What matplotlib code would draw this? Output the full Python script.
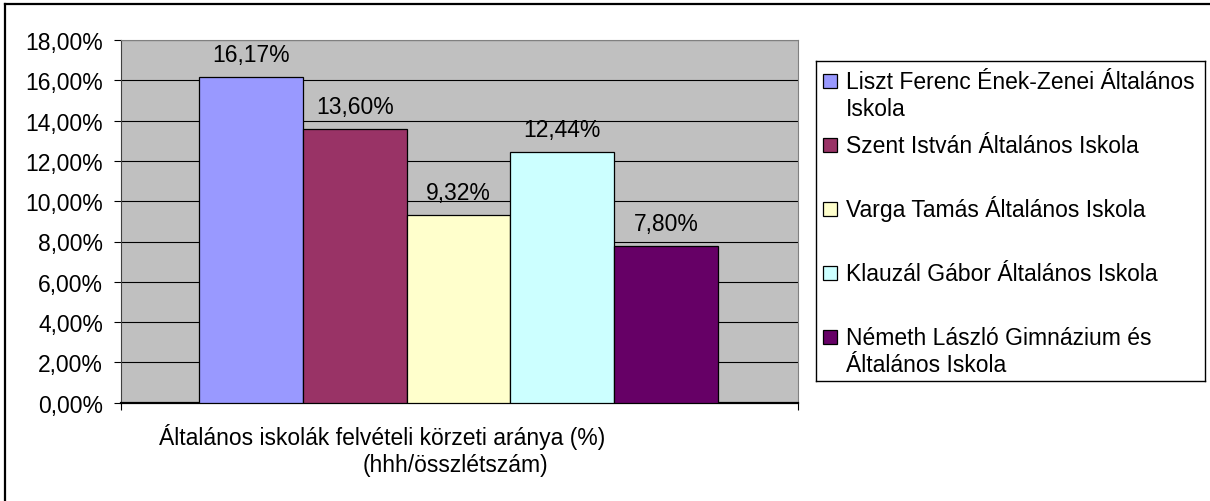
import matplotlib.pyplot as plt
from matplotlib.patches import Rectangle
from matplotlib.lines import Line2D

# chart data
schools = [
    "Liszt Ferenc Ének-Zenei Általános\nIskola",
    "Szent István Általános Iskola",
    "Varga Tamás Általános Iskola",
    "Klauzál Gábor Általános Iskola",
    "Németh László Gimnázium és\nÁltalános Iskola",
]
values = [16.17, 13.60, 9.32, 12.44, 7.80]
colors = ["#9999FF", "#993366", "#FFFFCC", "#CCFFFF", "#660066"]
yticks = [0, 2, 4, 6, 8, 10, 12, 14, 16, 18]
xlabel_line1 = "Általános iskolák felvételi körzeti aránya (%)"
xlabel_line2 = "(hhh/összlétszám)"

plt.rcParams["font.family"] = ["Liberation Sans", "DejaVu Sans"]
FS = 16.5

W, H = 1210, 502
fig = plt.figure(figsize=(W / 100, H / 100), dpi=100)

# plot area
ax = fig.add_axes([121 / W, 1 - 403.7 / H, 676.5 / W, 362.7 / H])
ax.set_facecolor("#C0C0C0")
ax.set_xlim(0, 1)
ax.set_ylim(0, 18)

bar_w = 0.1534
for i, (v, c) in enumerate(zip(values, colors)):
    x = 0.499 + (i - 2) * bar_w
    ax.bar(x, v, width=bar_w, color=c, edgecolor="black", linewidth=0.9, zorder=3)
    lbl = f"{v:.2f}%".replace(".", ",")
    ax.annotate(lbl, (x, v), xytext=(0, 11.5), textcoords="offset points",
                ha="center", va="baseline", fontsize=FS, zorder=4)

ax.set_yticks(yticks)
ax.set_yticklabels([f"{t:.2f}%".replace(".", ",") for t in yticks], fontsize=FS)
ax.yaxis.grid(True, color="black", linewidth=0.8, zorder=1)
ax.set_axisbelow(True)
ax.set_xticks([0, 1])
ax.set_xticklabels(["", ""])
ax.tick_params(axis="y", direction="out", length=5, width=0.8, pad=8)
ax.tick_params(axis="x", direction="out", length=5, width=0.8)

ax.spines["top"].set_color("#808080")
ax.spines["right"].set_color("#808080")
ax.spines["left"].set_color("#404040")
ax.spines["bottom"].set_color("black")
ax.spines["bottom"].set_linewidth(1.6)

# category label
fig.text(382.5 / W, 1 - 445 / H, xlabel_line1, ha="center", va="baseline", fontsize=FS)
fig.text(455 / W, 1 - 472 / H, xlabel_line2, ha="center", va="baseline", fontsize=FS)

# legend box
lax = fig.add_axes([815.5 / W, 1 - 382 / H, 390 / W, 320.5 / H])
lax.set_xlim(0, 390)
lax.set_ylim(320.5, 0)
lax.set_xticks([])
lax.set_yticks([])
for s in lax.spines.values():
    s.set_color("black")
    s.set_linewidth(1.0)

slot = 64
for i, (name, c) in enumerate(zip(schools, colors)):
    yc = i * slot + 20
    lax.add_patch(Rectangle((7.5, yc - 7), 14, 14, facecolor=c, edgecolor="black", linewidth=0.9))
    for j, line in enumerate(name.split("\n")):
        lax.text(30, yc + 7.5 + j * 27, line, ha="left", va="baseline", fontsize=FS)

# outer chart border (top and left are visible)
fig.add_artist(Line2D([5 / W, 1.0], [1 - 5 / H, 1 - 5 / H], color="black", linewidth=1.6))
fig.add_artist(Line2D([5 / W, 5 / W], [0.0, 1 - 5 / H], color="black", linewidth=1.6))

fig.savefig("out.png", dpi=100)
